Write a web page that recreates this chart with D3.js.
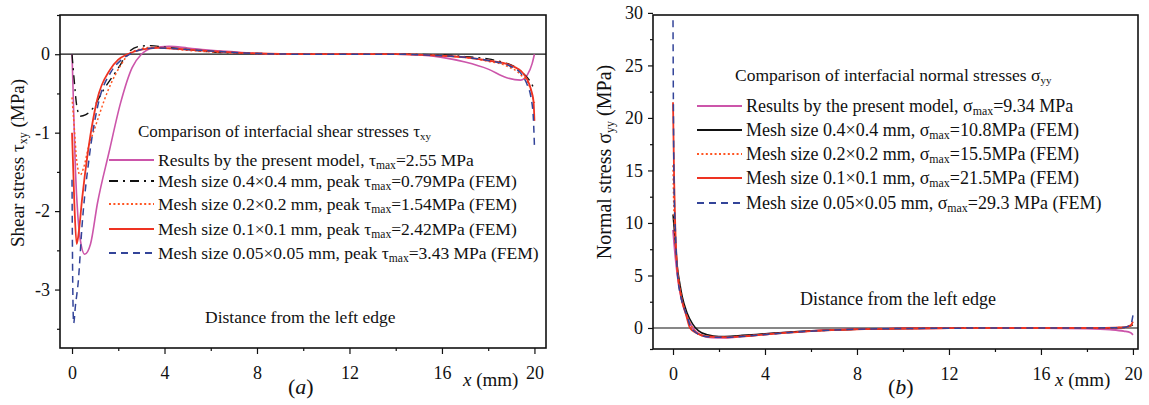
<!DOCTYPE html>
<html>
<head>
<meta charset="utf-8">
<script src="https://cdn.jsdelivr.net/npm/d3@7"></script>
<style>
  body { margin: 0; background: #fff; }
  svg { display: block; }
  svg text { font-family: "Liberation Serif", "Times New Roman", serif; fill: #111; }
</style>
</head>
<body>
<svg id="chart" width="1149" height="405" font-family="Liberation Serif"></svg>
<script>
// ---- (a) interfacial shear stress, x in mm, tau in MPa ----
var shearModelX = [0, 0.05, 0.15, 0.25, 0.35, 0.55, 0.8, 1.1, 1.6, 2.1, 2.6, 3.0, 3.5, 4.2, 5, 6, 7, 8, 10, 12, 14, 15, 16, 17, 18, 18.8, 19.4, 19.7, 19.9, 20];
var shearModelY = [0, -0.5, -1.5, -2.05, -2.35, -2.55, -2.42, -1.9, -1.25, -0.62, -0.17, 0, 0.08, 0.1, 0.08, 0.05, 0.03, 0.01, 0, 0, 0, -0.01, -0.04, -0.1, -0.19, -0.3, -0.33, -0.26, -0.12, 0];

var shear04X = [0, 0.1, 0.2, 0.35, 0.6, 0.9, 1.35, 1.95, 2.5, 2.9, 3.4, 4, 5, 6, 8, 10, 12, 14, 16, 17, 18, 18.6, 19.1, 19.5, 19.8, 20];
var shear04Y = [0, -0.35, -0.65, -0.79, -0.77, -0.69, -0.46, -0.2, 0.04, 0.1, 0.11, 0.09, 0.06, 0.03, 0.01, 0, 0, 0, -0.01, -0.03, -0.06, -0.1, -0.15, -0.24, -0.34, -0.45];

var shear02X = [0, 0.1, 0.2, 0.35, 0.5, 0.7, 1.0, 1.56, 2.15, 2.45, 3, 3.5, 4, 5, 6, 8, 10, 12, 14, 16, 17, 18, 18.8, 19.4, 19.8, 20];
var shear02Y = [-0.55, -0.95, -1.35, -1.54, -1.45, -1.2, -0.93, -0.46, -0.12, 0, 0.07, 0.09, 0.08, 0.05, 0.03, 0.01, 0, 0, 0, -0.02, -0.04, -0.09, -0.15, -0.26, -0.42, -0.62];

var shear01X = [0, 0.1, 0.2, 0.3, 0.43, 0.7, 1.08, 1.64, 2.0, 2.4, 3, 3.7, 4.5, 5, 6, 8, 10, 12, 14, 16, 17, 18, 18.96, 19.5, 19.7, 19.85, 19.96, 20];
var shear01Y = [-1.0, -1.9, -2.42, -2.25, -1.86, -1.22, -0.59, -0.2, -0.07, 0, 0.06, 0.08, 0.07, 0.06, 0.04, 0.01, 0, 0, 0, -0.02, -0.04, -0.08, -0.14, -0.24, -0.33, -0.45, -0.6, -0.85];

var shear005X = [0, 0.03, 0.07, 0.15, 0.27, 0.43, 0.75, 1.12, 1.7, 2.1, 2.5, 3, 3.7, 4.5, 5, 6, 8, 10, 12, 14, 16, 17, 18, 19, 19.5, 19.7, 19.85, 19.95, 20];
var shear005Y = [-1.6, -2.9, -3.43, -3.2, -2.9, -2.2, -1.3, -0.65, -0.22, -0.08, 0, 0.06, 0.08, 0.07, 0.06, 0.04, 0.01, 0, 0, 0, -0.02, -0.04, -0.08, -0.16, -0.28, -0.4, -0.55, -0.8, -1.17];

// ---- (b) interfacial normal stress ----
var normalModelX = [0, 0.05, 0.1, 0.2, 0.3, 0.4, 0.55, 0.75, 1.0, 1.3, 1.7, 2.2, 2.8, 3.5, 4.5, 5.5, 7, 8, 10, 12, 14, 16, 18, 19, 19.6, 19.9, 20];
var normalModelY = [9.34, 8.0, 6.8, 4.9, 3.5, 2.5, 1.4, 0.4, -0.35, -0.75, -0.92, -0.95, -0.85, -0.7, -0.5, -0.35, -0.18, -0.1, -0.05, -0.02, 0, 0, -0.05, -0.15, -0.3, -0.45, -0.65];

var normal04X = [0, 0.1, 0.2, 0.3, 0.4, 0.6, 0.85, 1.1, 1.5, 2.0, 2.5, 3, 4, 5, 6, 8, 10, 12, 14, 16, 18, 19.6, 20];
var normal04Y = [10.8, 8.2, 5.6, 4.2, 3.0, 1.5, 0.4, -0.25, -0.65, -0.8, -0.78, -0.7, -0.55, -0.4, -0.27, -0.12, -0.05, -0.02, 0, 0, 0, 0.05, 0.3];

var normal02X = [0, 0.03, 0.08, 0.15, 0.25, 0.4, 0.55, 0.75, 1.0, 1.4, 2.0, 2.5, 3.5, 4.5, 6, 8, 10, 12, 14, 16, 18, 19.6, 19.9, 20];
var normal02Y = [15.5, 12, 9, 6.5, 4.6, 2.6, 1.5, 0.4, -0.4, -0.8, -0.88, -0.85, -0.7, -0.52, -0.3, -0.12, -0.05, -0.02, 0, 0, 0, 0.05, 0.2, 0.6];

var normal01X = [0, 0.05, 0.1, 0.2, 0.3, 0.4, 0.55, 0.74, 1.0, 1.4, 2.0, 2.35, 3, 4, 5, 6, 8, 10, 12, 14, 16, 18, 19.6, 19.9, 20];
var normal01Y = [21.5, 14, 9.5, 5.2, 3.6, 2.5, 1.4, 0, -0.45, -0.78, -0.87, -0.88, -0.8, -0.62, -0.45, -0.3, -0.12, -0.05, -0.02, 0, 0, 0, 0.05, 0.25, 0.6];

var normal005X = [0, 0.02, 0.05, 0.1, 0.2, 0.3, 0.45, 0.6, 0.75, 1.0, 1.4, 2.0, 2.4, 3, 4, 5, 6, 8, 10, 12, 14, 16, 18, 19.6, 19.9, 20];
var normal005Y = [29.3, 20, 13, 9.5, 5.0, 3.4, 2.1, 1.2, 0.2, -0.45, -0.8, -0.88, -0.88, -0.8, -0.62, -0.45, -0.3, -0.12, -0.05, -0.02, 0, 0, 0, 0.05, 0.3, 1.2];

// legend texts: [lead, symbol, subscript, rest]
var shearLegend = [
  ["Results by the present model, ", "τ", "max", "=2.55 MPa"],
  ["Mesh size 0.4×0.4 mm, peak ", "τ", "max", "=0.79MPa (FEM)"],
  ["Mesh size 0.2×0.2 mm, peak ", "τ", "max", "=1.54MPa (FEM)"],
  ["Mesh size 0.1×0.1 mm, peak ", "τ", "max", "=2.42MPa (FEM)"],
  ["Mesh size 0.05×0.05 mm, peak ", "τ", "max", "=3.43 MPa (FEM)"]
];
var normalLegend = [
  ["Results by the present model, ", "σ", "max", "=9.34 MPa"],
  ["Mesh size 0.4×0.4 mm, ", "σ", "max", "=10.8MPa (FEM)"],
  ["Mesh size 0.2×0.2 mm, ", "σ", "max", "=15.5MPa (FEM)"],
  ["Mesh size 0.1×0.1 mm, ", "σ", "max", "=21.5MPa (FEM)"],
  ["Mesh size 0.05×0.05 mm, ", "σ", "max", "=29.3 MPa (FEM)"]
];

var xMajor = [0, 4, 8, 12, 16, 20];
var xMinor = [2, 6, 10, 14, 18];
var shearMajor = [-3, -2, -1, 0];
var shearMinor = [-3.5, -2.5, -1.5, -0.5, 0.5];
var normalMajor = [0, 5, 10, 15, 20, 25, 30];
var normalMinor = [-2, 2.5, 7.5, 12.5, 17.5, 22.5, 27.5];

var shearStyles = [
  { color: '#cc55aa', dash: null, width: 1.6 },
  { color: '#111111', dash: '9,5,2,5', width: 1.4 },
  { color: '#ff5522', dash: '2,2.4', width: 1.5 },
  { color: '#ee3322', dash: null, width: 1.8 },
  { color: '#334499', dash: '7,5', width: 1.5 }
];
var normalStyles = [
  { color: '#cc55aa', dash: null, width: 1.8 },
  { color: '#111111', dash: null, width: 1.5 },
  { color: '#ff5522', dash: '2,2.4', width: 1.5 },
  { color: '#ee3322', dash: null, width: 1.8 },
  { color: '#334499', dash: '7,5', width: 1.5 }
];

var svg = d3.select('#chart');
var FONT = '"Liberation Serif", "Times New Roman", serif';

function fmt(v) { return (v < 0 ? '-' : '') + Math.abs(v); }

function subText(sel, parts, size) {
  sel.append('tspan').text(parts[0]);
  sel.append('tspan').text(parts[1]);
  sel.append('tspan').attr('font-size', size * 0.66).attr('dy', 3).text(parts[2]);
  sel.append('tspan').attr('dy', -3).text(parts[3]);
}

function drawPanel(cfg) {
  var styles = cfg.styles;
  var x = d3.scaleLinear().domain(cfg.xDomain).range([cfg.left, cfg.right]);
  var y = d3.scaleLinear().domain(cfg.yDomain).range([cfg.bottom, cfg.top]);
  var g = svg.append('g');

  // minor ticks
  g.append('g').attr('transform', 'translate(0,' + cfg.bottom + ')')
    .call(d3.axisBottom(x).tickValues(xMinor).tickSize(3).tickSizeOuter(0).tickFormat(''))
    .call(function (a) { a.select('.domain').remove(); });
  g.append('g').attr('transform', 'translate(' + cfg.left + ',0)')
    .call(d3.axisLeft(y).tickValues(cfg.yMinor).tickSize(3).tickSizeOuter(0).tickFormat(''))
    .call(function (a) { a.select('.domain').remove(); });

  // major ticks
  var xa = g.append('g').attr('transform', 'translate(0,' + cfg.bottom + ')')
    .call(d3.axisBottom(x).tickValues(xMajor).tickSize(6).tickSizeOuter(0).tickPadding(12).tickFormat(fmt));
  xa.select('.domain').remove();
  var ya = g.append('g').attr('transform', 'translate(' + cfg.left + ',0)')
    .call(d3.axisLeft(y).tickValues(cfg.yMajor).tickSize(5).tickSizeOuter(0).tickPadding(5).tickFormat(fmt));
  ya.select('.domain').remove();
  g.selectAll('g').attr('font-family', FONT).attr('font-size', 18);
  g.selectAll('.tick line').attr('stroke', '#111').attr('stroke-width', 1.2);

  // frame
  g.append('rect').attr('x', cfg.left).attr('y', cfg.top)
    .attr('width', cfg.right - cfg.left).attr('height', cfg.bottom - cfg.top)
    .attr('fill', 'none').attr('stroke', '#111').attr('stroke-width', 1.6);
  g.append('line').attr('x1', cfg.left).attr('x2', cfg.right)
    .attr('y1', y(0)).attr('y2', y(0)).attr('stroke', '#111').attr('stroke-width', 1.2);

  // curves
  var line = d3.line().x(function (d) { return x(d[0]); }).y(function (d) { return y(d[1]); })
    .curve(d3.curveMonotoneX);
  cfg.series.forEach(function (s, i) {
    var pts = d3.zip(s[0], s[1]);
    g.append('path').datum(pts).attr('d', line)
      .attr('fill', 'none').attr('stroke', styles[i].color)
      .attr('stroke-width', styles[i].width)
      .attr('stroke-dasharray', styles[i].dash);
  });

  // legend
  var t = g.append('text').attr('x', cfg.titleX).attr('y', cfg.titleY).attr('font-size', cfg.fs);
  t.append('tspan').text(cfg.title);
  t.append('tspan').text(cfg.titleSym);
  t.append('tspan').attr('font-size', 11).attr('dy', 3).text(cfg.titleSub);

  cfg.legend.forEach(function (p, i) {
    var ly = cfg.legendY[i];
    g.append('line').attr('x1', cfg.legendX).attr('x2', cfg.legendX + 45)
      .attr('y1', ly).attr('y2', ly)
      .attr('stroke', styles[i].color).attr('stroke-width', i === 3 ? 2 : styles[i].width + 0.4)
      .attr('stroke-dasharray', styles[i].dash);
    var tx = g.append('text').attr('x', cfg.legendX + 49).attr('y', ly + 6).attr('font-size', cfg.fs + 0.5);
    subText(tx, p, cfg.fs + 0.5);
  });

  g.append('text').attr('x', cfg.distX).attr('y', cfg.distY).attr('font-size', cfg.fs + 0.5)
    .text('Distance from the left edge');

  // y axis title
  var yt = g.append('text').attr('transform', 'translate(' + cfg.yTitleX + ',' + cfg.yTitleY + ') rotate(-90)')
    .attr('text-anchor', 'middle').attr('font-size', cfg.yfs);
  yt.append('tspan').text(cfg.yTitle[0]);
  yt.append('tspan').attr('font-size', 12).attr('dy', 3).text(cfg.yTitle[1]);
  yt.append('tspan').attr('dy', -3).text(cfg.yTitle[2]);

  // x axis title
  var xt = g.append('text').attr('x', cfg.right - 83).attr('y', 386).attr('font-size', 19);
  xt.append('tspan').attr('font-style', 'italic').text('x');
  xt.append('tspan').text(' (mm)');

  var pl = g.append('text').attr('x', cfg.panelX).attr('y', 394).attr('font-size', 22);
  pl.append('tspan').text('(');
  pl.append('tspan').attr('font-style', 'italic').text(cfg.panel);
  pl.append('tspan').text(')');
}

drawPanel({
  left: 60, right: 546, top: 15, bottom: 348,
  xDomain: [-0.52, 20.5], yDomain: [-3.745, 0.5],
  yMajor: shearMajor, yMinor: shearMinor, styles: shearStyles, fs: 17, yfs: 19,
  series: [[shearModelX, shearModelY], [shear04X, shear04Y], [shear02X, shear02Y], [shear01X, shear01Y], [shear005X, shear005Y]],
  title: 'Comparison of interfacial shear stresses ', titleSym: 'τ', titleSub: 'xy',
  titleX: 138, titleY: 137,
  legend: shearLegend, legendX: 109, legendY: [160, 181, 204, 229, 253],
  distX: 205, distY: 323,
  yTitle: ['Shear  stress τ', 'xy', '  (MPa)'], yTitleX: 24, yTitleY: 163,
  panel: 'a', panelX: 288
});

drawPanel({
  left: 653, right: 1138, top: 15, bottom: 349,
  xDomain: [-0.87, 20.22], yDomain: [-2, 29.8],
  yMajor: normalMajor, yMinor: normalMinor, styles: normalStyles, fs: 17.5, yfs: 20,
  series: [[normalModelX, normalModelY], [normal04X, normal04Y], [normal02X, normal02Y], [normal01X, normal01Y], [normal005X, normal005Y]],
  title: 'Comparison of interfacial normal stresses ', titleSym: 'σ', titleSub: 'yy',
  titleX: 735, titleY: 81,
  legend: normalLegend, legendX: 697, legendY: [106, 130, 154, 178, 203],
  distX: 800, distY: 305,
  yTitle: ['Normal stress σ', 'yy', ' (MPa)'], yTitleX: 611, yTitleY: 162,
  panel: 'b', panelX: 888
});
</script>
</body>
</html>
